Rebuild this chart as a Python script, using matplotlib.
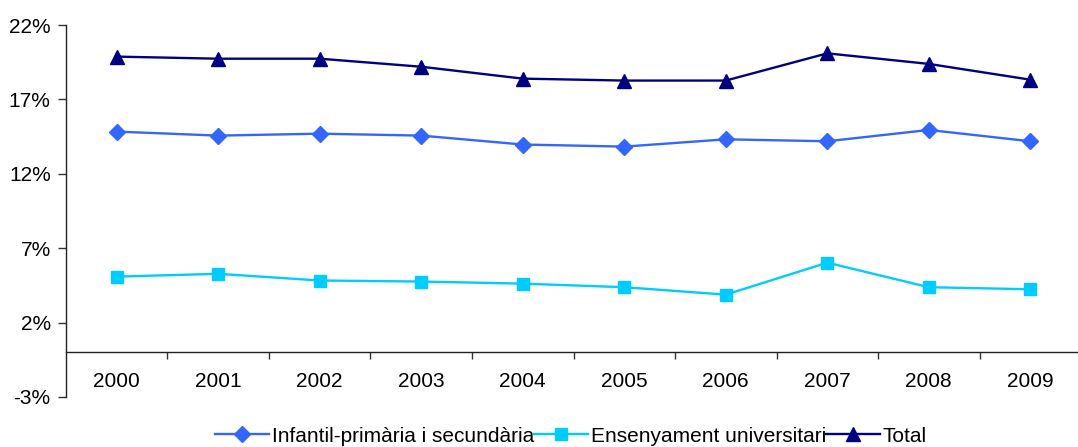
import matplotlib
matplotlib.use("Agg")
import matplotlib.pyplot as plt
from matplotlib.ticker import FixedLocator, FuncFormatter

plt.rcParams["font.family"] = ["Liberation Sans", "DejaVu Sans"]

years = ["2000", "2001", "2002", "2003", "2004", "2005", "2006", "2007", "2008", "2009"]
infantil = [14.84, 14.57, 14.70, 14.57, 13.97, 13.83, 14.32, 14.19, 14.95, 14.19]
universitari = [5.09, 5.28, 4.83, 4.76, 4.62, 4.38, 3.88, 6.03, 4.38, 4.24]
total = [19.88, 19.74, 19.74, 19.20, 18.40, 18.27, 18.27, 20.10, 19.39, 18.33]

labels = ["Infantil-primària i secundària", "Ensenyament universitari", "Total"]
y_ticks = [-3, 2, 7, 12, 17, 22]

fig = plt.figure(figsize=(10.78, 4.47), dpi=100)
ax = fig.add_axes([0.0612, 0.1119, 0.9388, 0.832])

x = list(range(len(years)))
ax.plot(x, infantil, color="#3366FF", marker="D", markersize=8.5, linewidth=1.7, label=labels[0])
ax.plot(x, universitari, color="#00CCFF", marker="s", markersize=8, linewidth=1.7, label=labels[1])
ax.plot(x, total, color="#000080", marker="^", markersize=9.5, linewidth=1.7, label=labels[2])

ax.set_xlim(-0.5, 9.47)
ax.set_ylim(-3, 22)
ax.set_yticks(y_ticks)
ax.yaxis.set_major_formatter(FuncFormatter(lambda v, p: f"{v:.0f}%"))

# category axis crosses at zero, ticks between categories
ax.spines["top"].set_visible(False)
ax.spines["right"].set_visible(False)
ax.spines["bottom"].set_position(("data", 0))
ax.xaxis.set_major_locator(FixedLocator([i + 0.5 for i in range(len(years) - 1)]))
ax.xaxis.set_major_formatter(FuncFormatter(lambda v, p: ""))
ax.set_xticks(x, minor=True)
ax.set_xticklabels(years, minor=True)
ax.tick_params(axis="x", which="major", direction="out", length=5, width=1, color="#333333")
ax.tick_params(axis="x", which="minor", length=0, pad=14, labelsize=15)
ax.tick_params(axis="y", direction="out", length=6, width=1, color="#333333", labelsize=15, pad=5)
for s in ["left", "bottom"]:
    ax.spines[s].set_color("#222222")
    ax.spines[s].set_linewidth(1)

fig.legend(loc="center", bbox_to_anchor=(571 / 1078, 1 - 436 / 447), ncol=3,
           frameon=False, fontsize=15, handlelength=2.6, handletextpad=0.12,
           columnspacing=0.0, borderpad=0)

fig.savefig("out.png", dpi=100)
